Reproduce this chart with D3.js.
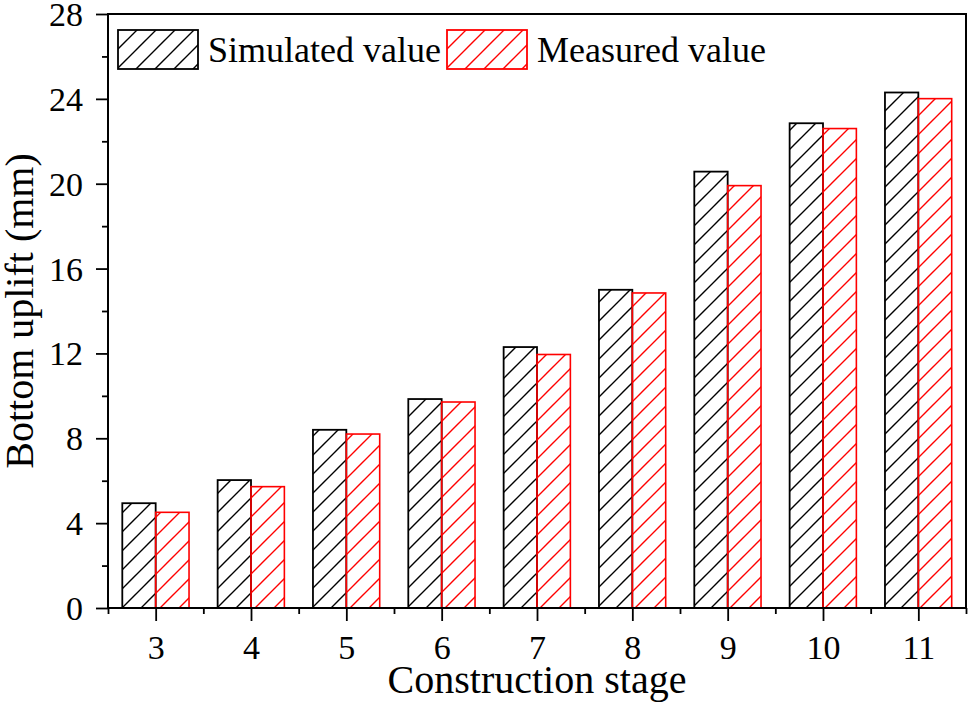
<!DOCTYPE html>
<html>
<head>
<meta charset="utf-8">
<script src="https://cdn.jsdelivr.net/npm/d3@7"></script>
<style>
body { margin: 0; background: #fff; }
svg text { font-family: "Liberation Serif", "Times New Roman", serif; fill: #000; }
</style>
</head>
<body>
<svg id="chart" width="968" height="709"></svg>
<script>
//Chart data.
var stages = [3, 4, 5, 6, 7, 8, 9, 10, 11];
var simulated = [4.94, 6.03, 8.4, 9.85, 12.3, 15.0, 20.57, 22.85, 24.3];
var measured = [4.51, 5.72, 8.2, 9.71, 11.95, 14.85, 19.91, 22.6, 24.01];
var yTicks = [0, 4, 8, 12, 16, 20, 24, 28];
var seriesNames = ["Simulated value", "Measured value"];
var seriesColors = ["#000000", "#ff0000"];

var margin = {left: 108, right: 2, top: 14, bottom: 101};
var width = 968 - margin.left - margin.right,
	height = 709 - margin.top - margin.bottom;

var svg = d3.select("#chart");

//Hatch patterns, one per series.
var defs = svg.append("defs");
seriesColors.forEach(function(c, i){
	var p = defs.append("pattern")
		.attr("id", "hatch" + i)
		.attr("patternUnits", "userSpaceOnUse")
		.attr("width", 19)
		.attr("height", 19);
	p.append("path")
		.attr("d", "M0,19 L19,0 M-5,5 L5,-5 M14,24 L24,14")
		.attr("stroke", c)
		.attr("stroke-width", 1.4);
});

var g = svg.append("g")
	.attr("transform", "translate(" + margin.left + "," + margin.top + ")");

var x = d3.scaleLinear().domain([2.5, 11.5]).range([0, width]);
var y = d3.scaleLinear().domain([0, 28]).range([height, 0]);
var barW = x(3.35) - x(3);

//Bars.
[simulated, measured].forEach(function(vals, si){
	g.selectAll(".bar" + si)
		.data(vals)
		.enter()
		.append("rect")
		.attr("x", function(d, i){ return si === 0 ? x(stages[i]) - barW : x(stages[i]); })
		.attr("y", function(d){ return y(d); })
		.attr("width", barW)
		.attr("height", function(d){ return height - y(d); })
		.attr("fill", "url(#hatch" + si + ")")
		.attr("stroke", seriesColors[si])
		.attr("stroke-width", si === 0 ? 1.8 : 1.6);
});

//Axes.
var xAxis = g.append("g")
	.attr("transform", "translate(0," + height + ")")
	.call(d3.axisBottom(x).tickValues(stages).tickFormat(d3.format("d")).tickSize(13).tickSizeOuter(0));
g.append("g")
	.attr("transform", "translate(0," + height + ")")
	.call(d3.axisBottom(x).tickValues(d3.range(2.5, 12, 1)).tickFormat("").tickSize(6).tickSizeOuter(0));

var yAxis = g.append("g")
	.call(d3.axisLeft(y).tickValues(yTicks).tickSize(12).tickSizeOuter(0));
g.append("g")
	.call(d3.axisLeft(y).tickValues(d3.range(2, 28, 4)).tickFormat("").tickSize(6).tickSizeOuter(0));

g.selectAll(".domain").remove();
g.selectAll(".tick line").attr("stroke", "#000").attr("stroke-width", 1.8);
g.selectAll(".tick text")
	.style("font-size", "34px")
	.style("font-family", "'Liberation Serif', serif")
	.style("fill", "#000");
xAxis.selectAll(".tick text").attr("y", 0).attr("dy", null).attr("transform", "translate(0,51)");
yAxis.selectAll(".tick text").attr("x", -25).attr("dy", "0.34em");

//Frame.
g.append("rect")
	.attr("width", width)
	.attr("height", height)
	.attr("fill", "none")
	.attr("stroke", "#000")
	.attr("stroke-width", 2);

//Axis titles.
svg.append("text")
	.attr("x", margin.left + width / 2)
	.attr("y", 693)
	.attr("text-anchor", "middle")
	.style("font-size", "40px")
	.text("Construction stage");
svg.append("text")
	.attr("transform", "translate(33," + (margin.top + height / 2) + ") rotate(-90)")
	.attr("text-anchor", "middle")
	.style("font-size", "40px")
	.text("Bottom uplift (mm)");

//Legend.
var legendX = [118, 447];
seriesNames.forEach(function(name, i){
	var lg = svg.append("g").attr("transform", "translate(" + legendX[i] + ",30)");
	lg.append("rect")
		.attr("width", 80)
		.attr("height", 39)
		.attr("fill", "url(#hatch" + i + ")")
		.attr("stroke", seriesColors[i])
		.attr("stroke-width", 1.8);
	lg.append("text")
		.attr("x", 90)
		.attr("y", 32)
		.style("font-size", "36px")
		.text(name);
});
</script>
</body>
</html>
